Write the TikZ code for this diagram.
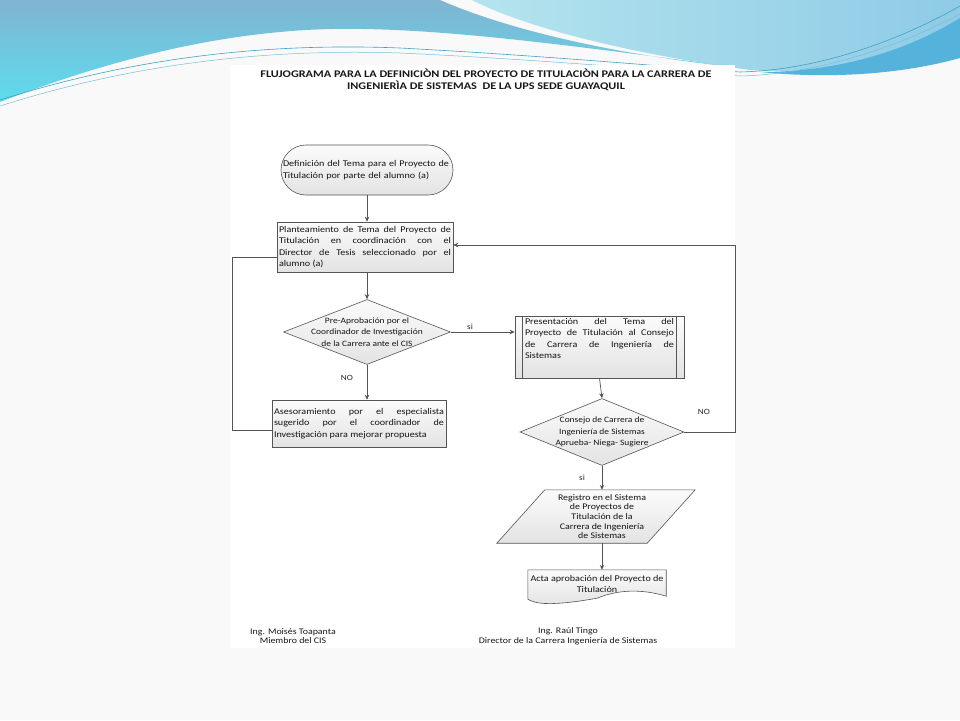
\documentclass[tikz,border=0pt]{standalone}
\usepackage{fontspec}
\setmainfont{Carlito}
\newfontfamily\widefont[FakeStretch=1.15]{Carlito}
\newfontfamily\titlefont[FakeStretch=1.2]{Carlito}
\usetikzlibrary{shapes.geometric,arrows.meta}
\definecolor{linegray}{HTML}{555555}
\definecolor{blueTop}{HTML}{80B4D0}
\definecolor{cyanBot}{HTML}{5EDCEE}
\definecolor{rightA}{HTML}{B4E4EE}
\definecolor{rightB}{HTML}{8FCBE6}
\definecolor{band}{HTML}{55B2DA}
\definecolor{thinl}{HTML}{3FA2C4}
\definecolor{pagebg}{HTML}{F9F9F9}
\tikzset{
  box/.style={draw=linegray, top color=gray!3, bottom color=gray!22, line width=0.6pt, inner sep=3pt},
  txt/.style={font=\widefont\fontsize{8.8}{11.6}\selectfont, text=black!92},
  dtxt/.style={font=\widefont\fontsize{8.2}{11.4}\selectfont, text=black!92, align=center},
  arr/.style={draw=linegray, line width=0.7pt, -{Stealth[length=5pt,width=4.5pt]}},
  lnk/.style={draw=linegray, line width=0.7pt},
  lab/.style={font=\widefont\fontsize{8}{9}\selectfont, text=black!85},
  sig/.style={font=\widefont\fontsize{8.6}{9.5}\selectfont, text=black!90, align=center},
}
\begin{document}
\begin{tikzpicture}[x=1pt,y=-1pt]
\useasboundingbox (0,0) rectangle (960,720);
\fill[pagebg] (0,0) rectangle (960,720);
% top decoration
\shade[top color=blueTop, bottom color=cyanBot]
  (0,0) -- (440,0) .. controls (520,35) and (640,58) .. (745,68)
  .. controls (560,45) and (400,20) .. (280,32)
  .. controls (170,42) and (70,75) .. (0,102) -- cycle;
\shade[left color=rightA, right color=rightB]
  (472,0) -- (960,0) -- (960,30) .. controls (900,60) and (820,75) .. (750,70)
  .. controls (640,55) and (530,30) .. (472,0) -- cycle;
\fill[band] (960,18) .. controls (900,55) and (830,72) .. (760,72)
  .. controls (840,80) and (910,72) .. (960,58) -- cycle;
\draw[thinl, line width=0.6pt] (0,100) .. controls (120,62) and (250,42) .. (400,48)
  .. controls (550,56) and (680,68) .. (740,72) .. controls (820,70) and (900,40) .. (960,6);
\draw[thinl!70, line width=0.5pt] (0,106) .. controls (120,68) and (250,48) .. (400,53)
  .. controls (550,60) and (680,72) .. (740,76) .. controls (820,74) and (900,46) .. (960,14);
% paper
\fill[white] (230,65) rectangle (735,648);
% title
\node[font=\titlefont\bfseries\fontsize{10.2}{12}\selectfont, align=center, text=black!90] (title) at (486,80)
  {FLUJOGRAMA PARA LA DEFINICIÒN DEL PROYECTO DE TITULACIÒN PARA LA CARRERA DE\\
   INGENIERÌA DE SISTEMAS\ \ DE LA UPS SEDE GUAYAQUIL};
% nodes
\node[box, txt, rounded corners=25pt, minimum width=172pt, minimum height=50pt,
      text width=168pt, inner sep=2pt, align=left] (start) at (367,170)
  {Definición del Tema para el Proyecto de\\Titulación por parte del alumno (a)};
\node[box, txt, minimum width=176pt, minimum height=50pt, text width=172pt, inner sep=2pt, align=justify] (plant) at (365,247)
  {Planteamiento de Tema del Proyecto de\linebreak Titulación en coordinación con el\linebreak
   Director de Tesis seleccionado por el\linebreak alumno (a)};
\node[box, diamond, minimum width=167pt, minimum height=65pt, inner sep=0pt] (d1) at (367,332) {};
\node[dtxt] (d1t) at (d1.center)
  {Pre-Aprobación por el\\Coordinador de Investigación\\de la Carrera ante el CIS};
\node[box, txt, minimum width=174pt, minimum height=47pt, text width=170pt, inner sep=2pt, align=justify] (ases) at (359,423.5)
  {Asesoramiento por el especialista\linebreak sugerido por el coordinador de\linebreak
   Investigación para mejorar propuesta};
\node[box, minimum width=169pt, minimum height=62pt, inner sep=0pt] (pres) at (599.5,347) {};
\draw[linegray, line width=0.6pt] ([xshift=8pt]pres.north west) -- ([xshift=8pt]pres.south west)
  ([xshift=-8pt]pres.north east) -- ([xshift=-8pt]pres.south east);
\node[txt, text width=149pt, align=justify, anchor=north, inner sep=2pt] (prest) at (pres.north)
  {Presentación del Tema del\linebreak Proyecto de Titulación al Consejo\linebreak
   de Carrera de Ingeniería de\linebreak Sistemas};
\node[box, diamond, minimum width=164pt, minimum height=67pt, inner sep=0pt] (d2) at (602,432) {};
\node[dtxt] (d2t) at (d2.center)
  {Consejo de Carrera de\\Ingeniería de Sistemas\\Aprueba- Niega- Sugiere};
\node[minimum width=150pt, minimum height=53pt, inner sep=0pt] (reg) at (596,516.5) {};
\shade[box] ([xshift=24pt]reg.north west) -- ([xshift=24pt]reg.north east)
  -- ([xshift=-24pt]reg.south east) -- ([xshift=-24pt]reg.south west) -- cycle;
\node[font=\widefont\fontsize{8.6}{9.7}\selectfont, text=black!92, align=center] (regt) at (602,516.5)
  {Registro en el Sistema\\de Proyectos de\\Titulación de la\\Carrera de Ingeniería\\de Sistemas};
\node[minimum width=138pt, minimum height=26pt, inner sep=0pt] (acta) at (597,583) {};
\shade[box] (acta.north west) -- (acta.north east) -- (acta.south east)
  .. controls ([xshift=-26pt,yshift=8pt]acta.south east) and ([xshift=-50pt,yshift=6pt]acta.south east) .. ([yshift=-2pt]acta.south)
  .. controls ([xshift=24pt,yshift=-10pt]acta.south west) and ([xshift=8pt,yshift=-8pt]acta.south west) .. ([yshift=-3pt]acta.south west) -- cycle;
\node[txt, align=center] (actat) at (597,584)
  {Acta aprobación del Proyecto de\\Titulación};
% labels
\node[lab] (si1) at (470,327) {si};
\node[lab] (no1) at (347,378) {NO};
\node[lab] (no2) at (704,412) {NO};
\node[lab] (si2) at (582,478) {si};
% signatures
\node[sig] (sig1) at (293,636) {Ing. Moisés Toapanta\\Miembro del CIS};
\node[sig] (sig2) at (568,636) {Ing. Raúl Tingo\\Director de la Carrera Ingeniería de Sistemas};
% connectors
\coordinate (l1) at (232,430);
\coordinate (l2) at (232,257);
\coordinate (r1) at (735,432);
\coordinate (r2) at (735,245);
\draw[arr] (start.south) -- (start.south |- plant.north);
\draw[arr] (d1.north |- plant.south) -- (d1.north);
\draw[arr] (d1.east) -- (d1.east -| pres.west);
\draw[arr] (d1.south) -- (d1.south |- ases.north);
\draw[lnk] (ases.west |- l1) -- (l1) -- (l2) -- (plant.west |- l2);
\draw[arr] (pres.south) -- (d2.north);
\draw[arr] (d2.east) -- (r1) -- (r2) -- (plant.east |- r2);
\draw[arr] (d2.south) -- (d2.south |- reg.north);
\draw[arr] (d2.south |- reg.south) -- (d2.south |- acta.north);
\end{tikzpicture}
\end{document}
